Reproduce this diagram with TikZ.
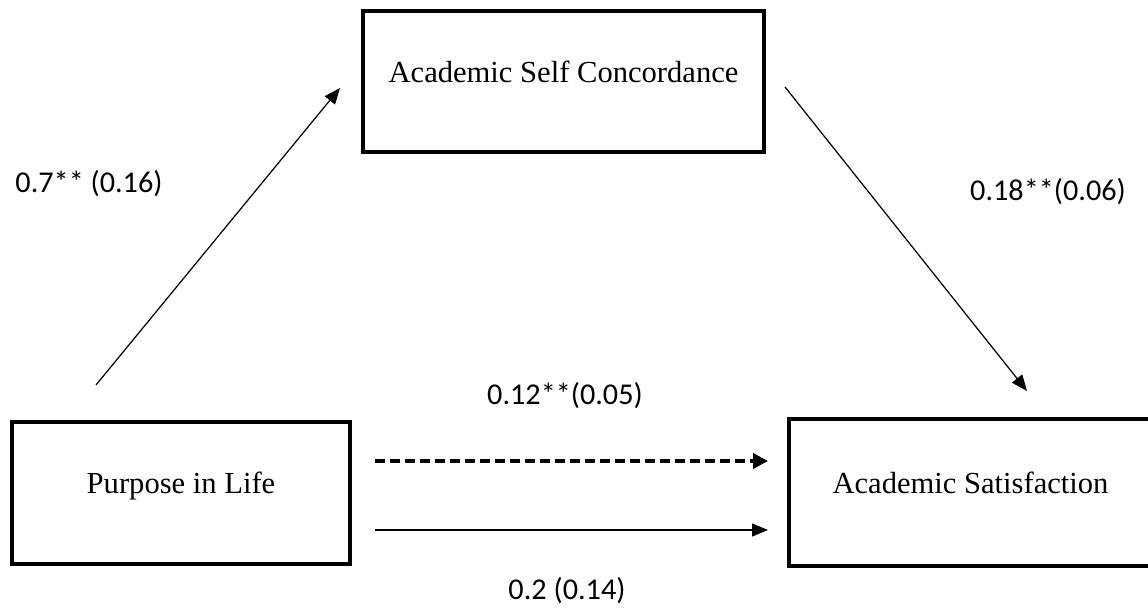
\documentclass[tikz,border=0pt]{standalone}
\usepackage{fontspec}
\setmainfont{Liberation Serif}
\newfontfamily\labelfont{Carlito}
\usetikzlibrary{arrows.meta}
\begin{document}
\begin{tikzpicture}[
    varbox/.style={draw, line width=2.2pt, rectangle, inner sep=0pt,
        text height=0.4cm, text depth=0.36cm, font=\fontsize{17.4}{20}\selectfont},
    coef/.style={inner sep=0pt, font=\labelfont\fontsize{17.2}{20}\selectfont},
    effarrow/.style={line width=0.7pt, -{Triangle[length=0.32cm, width=0.26cm]}},
    dasharrow/.style={line width=2.4pt, dash pattern=on 0.2cm off 0.1cm, -{Triangle[length=0.3cm, width=0.3cm]}}
  ]
  % Page frame
  \useasboundingbox (0,0) rectangle (22.96,12.16);

  % The three variables
  \node[varbox, minimum width=8.02cm, minimum height=2.82cm] (ASC) at (11.27,10.53) {Academic Self Concordance};
  \node[varbox, minimum width=6.76cm, minimum height=2.84cm] (PIL) at (3.62,2.30) {Purpose in Life};
  \node[varbox, minimum width=7.26cm, minimum height=2.94cm] (AS) at (19.41,2.31) {Academic Satisfaction};

  % Free ends of the arrows
  \coordinate (a1) at (1.92,4.46);
  \coordinate (a2) at (6.80,10.40);
  \coordinate (b1) at (15.70,10.42);
  \coordinate (b2) at (20.54,4.34);
  \coordinate (c1) at (7.50,2.94);
  \coordinate (c2) at (15.36,2.94);
  \coordinate (d1) at (7.50,1.56);
  \coordinate (d2) at (15.36,1.56);

  % Paths
  \draw[effarrow] (a1) -- (a2);
  \draw[effarrow] (b1) -- (b2);
  \draw[dasharrow] (c1) -- (c2);
  \draw[effarrow] (d1) -- (d2);

  % Coefficients
  \node[coef] (ca) at (1.78,8.48) {0.7** (0.16)};
  \node[coef] (cb) at (20.96,8.32) {0.18**(0.06)};
  \node[coef] (cc) at (11.30,4.24) {0.12**(0.05)};
  \node[coef] (cd) at (11.34,0.34) {0.2 (0.14)};
\end{tikzpicture}
\end{document}
